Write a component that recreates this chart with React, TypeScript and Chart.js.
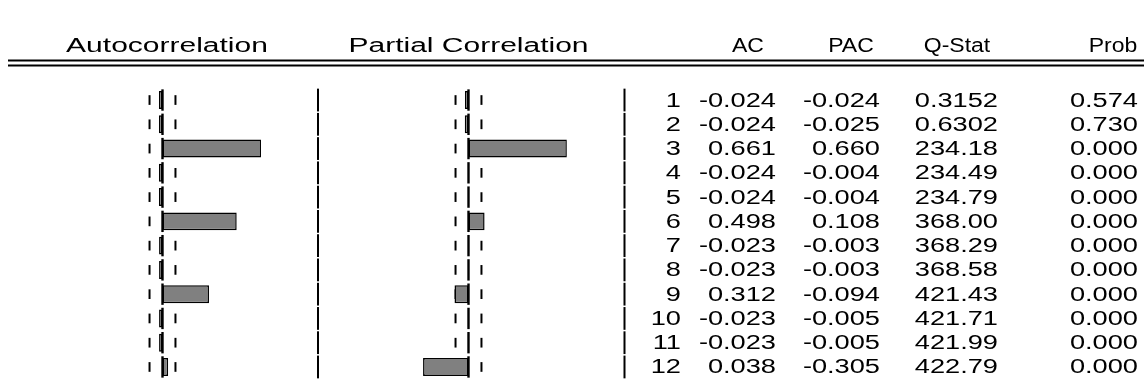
import React, { useEffect, useRef } from "react";
import { Chart, registerables } from "chart.js";

Chart.register(...registerables);

// ---------- data ----------
const lags = ["1", "2", "3", "4", "5", "6", "7", "8", "9", "10", "11", "12"];
const acValues = [-0.024, -0.024, 0.661, -0.024, -0.024, 0.498, -0.023, -0.023, 0.312, -0.023, -0.023, 0.038];
const pacValues = [-0.024, -0.025, 0.66, -0.004, -0.004, 0.108, -0.003, -0.003, -0.094, -0.005, -0.005, -0.305];
const qStat = ["0.3152", "0.6302", "234.18", "234.49", "234.79", "368.00", "368.29", "368.58", "421.43", "421.71", "421.99", "422.79"];
const prob = ["0.574", "0.730", "0.000", "0.000", "0.000", "0.000", "0.000", "0.000", "0.000", "0.000", "0.000", "0.000"];
const confBound = 0.087;
const panelTitles = ["Autocorrelation", "Partial Correlation"];
const columnTitles = ["AC", "PAC", "Q-Stat", "Prob"];

// ---------- layout ----------
const W = 1144;
const H = 385;
const PX_PER_UNIT = 149;
const AC_ZERO = 162.5;
const PAC_ZERO = 468.5;
const ROW_TOP = 87.9;
const ROW_BOTTOM = 379.1;
const FONT = '20px "Liberation Sans", Arial, sans-serif';
const SX_PANEL = 1.5;
const SX_HEAD = 1.15;
const SX_TABLE = 1.36;
const SEPARATORS = [318, 624.5];
const COL_RIGHT = [681, 776, 880, 998, 1138];
const PANEL_CENTERS = [167, 468.5];
const COLUMN_CENTERS = [748, 851, 957, 1113];
const HEADER_Y = 46;
const DOUBLE_LINES = [60.5, 65.5];

const tickHalf = 1 / PX_PER_UNIT;
const zeroHalf = 1.2 / PX_PER_UNIT;

function fmt(v: number) {
  return v.toFixed(3);
}

function drawStretched(
  ctx: CanvasRenderingContext2D,
  s: string,
  x: number,
  y: number,
  align: CanvasTextAlign,
  sx: number
) {
  ctx.save();
  ctx.translate(x, y);
  ctx.scale(sx, 1);
  ctx.textAlign = align;
  ctx.textBaseline = "middle";
  ctx.fillText(s, 0, 0);
  ctx.restore();
}

const tablePlugin = {
  id: "correlogramTable",
  afterDraw(chart: any) {
    const ctx: CanvasRenderingContext2D = chart.ctx;
    const yScale = chart.scales.y;
    const band = (yScale.bottom - yScale.top) / lags.length;
    ctx.save();
    ctx.fillStyle = "#000";
    ctx.font = FONT;
    // headers
    panelTitles.forEach((t, i) => drawStretched(ctx, t, PANEL_CENTERS[i], HEADER_Y, "center", SX_PANEL));
    columnTitles.forEach((t, i) => drawStretched(ctx, t, COLUMN_CENTERS[i], HEADER_Y, "center", SX_HEAD));
    // double rule
    DOUBLE_LINES.forEach((y) => ctx.fillRect(8, y - 1, W - 8, 2));
    // separators per row
    lags.forEach((_, i) => {
      const c = yScale.getPixelForValue(i);
      SEPARATORS.forEach((x) => ctx.fillRect(x - 1, c - band / 2 + 0.75, 2, band - 1.5));
    });
    // table rows
    lags.forEach((lag, i) => {
      const y = yScale.getPixelForValue(i) + 1;
      const cells = [lag, fmt(acValues[i]), fmt(pacValues[i]), qStat[i], prob[i]];
      cells.forEach((s, j) => drawStretched(ctx, s, COL_RIGHT[j], y, "right", SX_TABLE));
    });
    ctx.restore();
  },
};

export default function App() {
  const ref = useRef<HTMLCanvasElement | null>(null);

  useEffect(() => {
    if (!ref.current) return;
    const common = {
      grouped: false,
      categoryPercentage: 1,
      borderSkipped: false,
    };
    const tickSet = (axis: string, sign: number) => ({
      ...common,
      xAxisID: axis,
      data: lags.map(() => [sign * confBound - tickHalf, sign * confBound + tickHalf]),
      backgroundColor: "#000",
      borderWidth: 0,
      barPercentage: 0.4,
      order: 3,
    });
    const zeroSet = (axis: string) => ({
      ...common,
      xAxisID: axis,
      data: lags.map(() => [-zeroHalf, zeroHalf]),
      backgroundColor: "#000",
      borderWidth: 0,
      barPercentage: 0.88,
      order: 1,
    });
    const barSet = (label: string, axis: string, values: number[]) => ({
      ...common,
      label,
      xAxisID: axis,
      data: values,
      backgroundColor: "#808080",
      borderColor: "#000",
      borderWidth: 1.5,
      barPercentage: 0.74,
      order: 2,
    });
    const chart = new Chart(ref.current, {
      type: "bar",
      data: {
        labels: lags,
        datasets: [
          zeroSet("xA"),
          zeroSet("xP"),
          barSet("AC", "xA", acValues),
          barSet("PAC", "xP", pacValues),
          tickSet("xA", 1),
          tickSet("xA", -1),
          tickSet("xP", 1),
          tickSet("xP", -1),
        ] as any,
      },
      options: {
        indexAxis: "y",
        animation: false,
        responsive: false,
        devicePixelRatio: 1,
        layout: { padding: { top: ROW_TOP, bottom: H - ROW_BOTTOM, left: 0, right: 0 } },
        plugins: { legend: { display: false }, tooltip: { enabled: false } },
        scales: {
          y: { type: "category", display: false, offset: true, grid: { display: false } },
          xA: {
            type: "linear",
            axis: "x",
            display: false,
            min: -AC_ZERO / PX_PER_UNIT,
            max: (W - AC_ZERO) / PX_PER_UNIT,
          },
          xP: {
            type: "linear",
            axis: "x",
            display: false,
            min: -PAC_ZERO / PX_PER_UNIT,
            max: (W - PAC_ZERO) / PX_PER_UNIT,
          },
        },
      } as any,
      plugins: [tablePlugin],
    });
    return () => chart.destroy();
  }, []);

  return (
    <div style={{ position: "fixed", left: 0, top: 0, width: W, height: H, background: "#fff" }}>
      <canvas ref={ref} width={W} height={H} style={{ display: "block", width: W, height: H }} />
    </div>
  );
}
